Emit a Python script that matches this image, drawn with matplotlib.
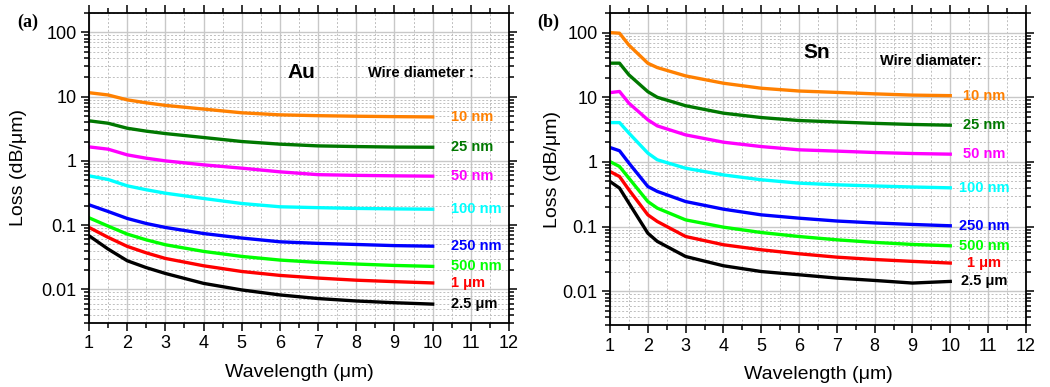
import numpy as np
import matplotlib
matplotlib.use("Agg")
import matplotlib.pyplot as plt
from matplotlib.ticker import LogLocator, MultipleLocator, FuncFormatter, NullFormatter

plt.rcParams['font.family'] = ['Liberation Sans', 'DejaVu Sans']

# wire diameters and their line colours
diametres = ["10 nm", "25 nm", "50 nm", "100 nm", "250 nm", "500 nm", "1 \u03bcm", "2.5 \u03bcm"]
couleurs = ["#ff8000", "#007800", "#ff00ff", "#00ffff", "#0000ff", "#00ff00", "#ff0000", "#000000"]

# (a) gold, loss in dB/um
lambda_au = [1, 1.5, 2, 2.5, 3, 4, 5, 6, 7, 8, 9, 10]
perte_au = [
    [11.5, 10.6, 8.9, 8.0, 7.3, 6.4, 5.6, 5.2, 5.05, 4.95, 4.88, 4.83],
    [4.2, 3.85, 3.22, 2.9, 2.66, 2.31, 2.0, 1.82, 1.71, 1.67, 1.64, 1.63],
    [1.65, 1.52, 1.24, 1.1, 1.0, 0.867, 0.77, 0.675, 0.61, 0.595, 0.585, 0.578],
    [0.585, 0.513, 0.409, 0.355, 0.314, 0.26, 0.217, 0.193, 0.187, 0.182, 0.179, 0.177],
    [0.207, 0.163, 0.127, 0.106, 0.092, 0.074, 0.063, 0.055, 0.052, 0.050, 0.048, 0.047],
    [0.13, 0.0965, 0.0725, 0.059, 0.0495, 0.039, 0.0326, 0.0286, 0.0263, 0.0248, 0.0236, 0.0228],
    [0.092, 0.0645, 0.0467, 0.037, 0.0303, 0.0233, 0.019, 0.0165, 0.015, 0.0139, 0.0132, 0.0126],
    [0.0683, 0.0424, 0.0279, 0.0218, 0.0177, 0.0124, 0.0098, 0.0082, 0.0072, 0.0066, 0.0062, 0.0059],
]

# (b) tin
lambda_sn = [1, 1.25, 1.5, 2, 2.25, 3, 4, 5, 6, 7, 8, 9, 10]
perte_sn = [
    [100, 98, 64, 33.6, 28.8, 21.4, 16.5, 13.8, 12.5, 11.9, 11.3, 10.8, 10.6],
    [33.7, 33.7, 22.2, 12.2, 10.0, 7.4, 5.68, 4.86, 4.37, 4.15, 3.95, 3.8, 3.7],
    [11.8, 12.3, 8.1, 4.48, 3.61, 2.62, 2.02, 1.73, 1.54, 1.47, 1.40, 1.35, 1.32],
    [4.06, 4.06, 2.79, 1.37, 1.08, 0.80, 0.63, 0.53, 0.47, 0.443, 0.425, 0.41, 0.398],
    [1.67, 1.49, 0.96, 0.417, 0.35, 0.244, 0.186, 0.152, 0.135, 0.122, 0.114, 0.108, 0.103],
    [1.01, 0.85, 0.56, 0.244, 0.193, 0.127, 0.098, 0.081, 0.0703, 0.0625, 0.057, 0.053, 0.0505],
    [0.71, 0.595, 0.37, 0.152, 0.12, 0.0703, 0.0524, 0.0438, 0.038, 0.0337, 0.031, 0.029, 0.0273],
    [0.498, 0.394, 0.23, 0.079, 0.059, 0.0345, 0.0248, 0.0202, 0.018, 0.016, 0.0147, 0.0134, 0.0142],
]


def preparer_axe(ax):
    ax.set_yscale("log")
    ax.set_xlim(1, 12)
    ax.set_ylim(0.003, 200)
    ax.xaxis.set_major_locator(MultipleLocator(1))
    ax.xaxis.set_minor_locator(MultipleLocator(0.5))
    ax.yaxis.set_major_locator(LogLocator(base=10, numticks=10))
    ax.yaxis.set_minor_locator(LogLocator(base=10, subs=np.arange(2, 10), numticks=10))
    ax.yaxis.set_major_formatter(FuncFormatter(lambda v, p: "%g" % v))
    ax.yaxis.set_minor_formatter(NullFormatter())
    ax.grid(True, which="major", color="#c8c8c8", linestyle="-", linewidth=1.0)
    ax.grid(True, which="minor", color="#bebebe", linestyle=(0, (2, 2)), linewidth=0.7)
    ax.set_axisbelow(True)
    ax.tick_params(which="both", direction="out", top=True, right=True,
                   labelsize=13, pad=3, width=1.1)
    ax.tick_params(which="major", length=6)
    ax.tick_params(which="minor", length=3.5)
    for s in ax.spines.values():
        s.set_linewidth(1.3)
    ax.set_xlabel("Wavelength (\u03bcm)", fontsize=14, labelpad=8)
    ax.set_ylabel("Loss (dB/\u03bcm)", fontsize=14)


fig = plt.figure(figsize=(10.5, 3.87), dpi=100)
ax1 = fig.add_axes([0.0848, 0.1654, 0.400, 0.801])
ax2 = fig.add_axes([0.581, 0.160, 0.396, 0.806])

# Au
preparer_axe(ax1)
for perte, c, d in zip(perte_au, couleurs, diametres):
    ax1.plot(lambda_au, perte, color=c, linewidth=2.4)
    ax1.text(10.48, perte[-1], d, color=c, fontsize=10.5, fontweight="bold",
             ha="left", va="center")
ax1.text(6.56, 23.6, "Au", fontsize=15, fontweight="bold", ha="center", va="center")
ax1.text(9.69, 23, "Wire diameter :", fontsize=10.5, fontweight="bold", ha="center", va="center")
ax1.yaxis.set_label_coords(-0.148, 0.5)

# Sn
preparer_axe(ax2)
for perte, c, d in zip(perte_sn, couleurs, diametres):
    ax2.plot(lambda_sn, perte, color=c, linewidth=2.4)
    ax2.text(10.9, perte[-1], d, color=c, fontsize=10.5, fontweight="bold",
             ha="center", va="center")
ax2.text(6.46, 50, "Sn", fontsize=15, fontweight="bold", ha="center", va="center")
ax2.text(9.49, 36, "Wire diamater:", fontsize=10.5, fontweight="bold", ha="center", va="center")
ax2.yaxis.set_label_coords(-0.118, 0.5)

fig.text(28 / 1050, 1 - 22 / 387, "(a)", family=["Liberation Serif", "DejaVu Serif"],
         fontsize=13, fontweight="bold", ha="center", va="center")
fig.text(548 / 1050, 1 - 22 / 387, "(b)", family=["Liberation Serif", "DejaVu Serif"],
         fontsize=13, fontweight="bold", ha="center", va="center")

fig.savefig("out.png", dpi=100, facecolor="white")
